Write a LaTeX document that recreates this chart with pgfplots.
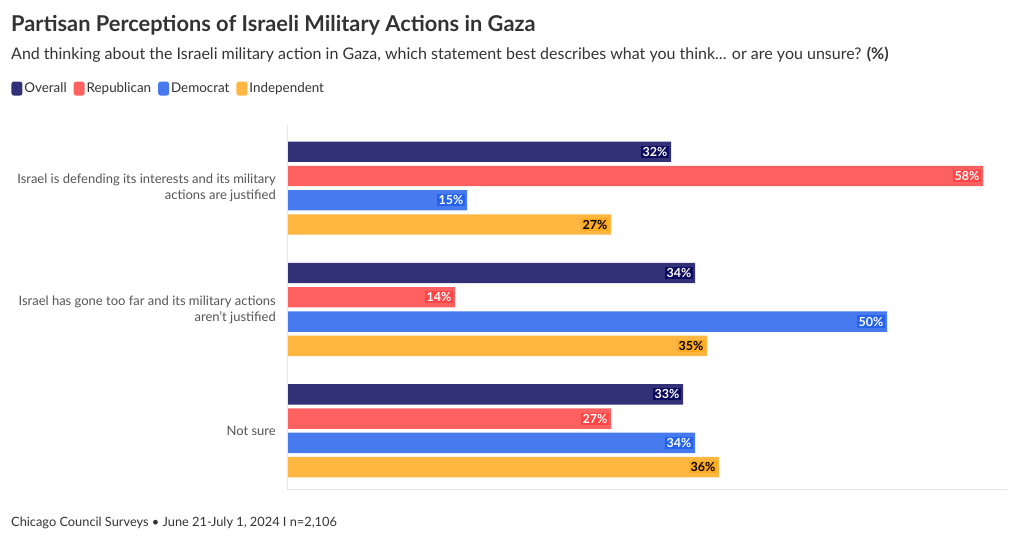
\documentclass[border=0pt]{standalone}
\usepackage{pgfplots}
\pgfplotsset{compat=1.18}
\usepackage{fontspec}
\setmainfont{Lato}
\definecolor{cOv}{HTML}{0E0C5E}
\definecolor{cRe}{HTML}{FF4545}
\definecolor{cDe}{HTML}{2563EB}
\definecolor{cIn}{HTML}{FFAA20}
\definecolor{txt}{HTML}{333333}
\definecolor{lab}{HTML}{555555}
\begin{document}
\begin{tikzpicture}
\path[use as bounding box] (0pt,0pt) rectangle (1020pt,-540pt);
\node[anchor=base west, inner sep=0pt, text=txt] at (11pt,-32pt) {\fontsize{21.8}{26}\selectfont\bfseries Partisan Perceptions of Israeli Military Actions in Gaza};
\node[anchor=base west, inner sep=0pt, text=txt] at (11pt,-60pt) {\fontsize{16}{18}\selectfont And thinking about the Israeli military action in Gaza, which statement best describes what you think... or are you unsure? \textbf{(\%)}};
\node[anchor=base west, inner sep=0pt, text=txt] at (11pt,-526pt) {\fontsize{12.8}{16}\selectfont Chicago Council Surveys • June 21-July 1, 2024 I n=2,106};
\begin{axis}[
  at={(287pt,-125pt)}, anchor=north west,
  width=720pt, height=364pt, scale only axis,
  xbar, xmin=0, xmax=60,
  ymin=-0.52, ymax=2.48, y dir=reverse,
  ytick={0,1,2},
  yticklabels={{Israel is defending its interests and its military\\actions are justified},{Israel has gone too far and its military actions\\aren't justified},{Not sure}},
  yticklabel style={align=right, font=\fontsize{13}{16}\selectfont, text=lab, inner sep=0pt, xshift=-11pt},
  xtick=\empty, major tick length=0pt,
  axis line style={draw=none},
  bar width=0.168,
  /pgf/number format/assume math mode=true,
  nodes near coords={\pgfmathprintnumber{\pgfplotspointmeta}\%},
  point meta=x,
  every node near coord/.append style={anchor=east, font=\fontsize{12.5}{14}\selectfont\bfseries, inner sep=1.5pt, xshift=-2pt},
  legend style={at={(-0.383,1.1)}, anchor=west, draw=none, fill=none, legend columns=-1, inner sep=0pt,
    font=\fontsize{13.4}{16}\selectfont, text=txt, nodes={inner sep=2pt},
    /tikz/every odd column/.append style={column sep=0pt},
    /tikz/every even column/.append style={column sep=5pt}},
  legend image code/.code={\fill[#1, rounded corners=2.5pt] (0pt,-7pt) rectangle (11pt,7pt);},
  clip=false,
]
\addplot[draw=none, fill=cOv!85!white, bar shift=-0.3, every node near coord/.append style={text=white, fill=cOv}] coordinates {(32,0) (34,1) (33,2)};
\addplot[draw=none, fill=cRe!85!white, bar shift=-0.1, every node near coord/.append style={text=white, fill=cRe}] coordinates {(58,0) (14,1) (27,2)};
\addplot[draw=none, fill=cDe!85!white, bar shift=0.1, every node near coord/.append style={text=white, fill=cDe}] coordinates {(15,0) (50,1) (34,2)};
\addplot[draw=none, fill=cIn!85!white, bar shift=0.3, every node near coord/.append style={text=black, fill=cIn}] coordinates {(27,0) (35,1) (36,2)};
\legend{Overall, Republican, Democrat, Independent}
\draw[gray!20] (axis cs:0,-0.52) -- (axis cs:0,2.48) -- (axis cs:60,2.48);
\end{axis}
\end{tikzpicture}
\end{document}
